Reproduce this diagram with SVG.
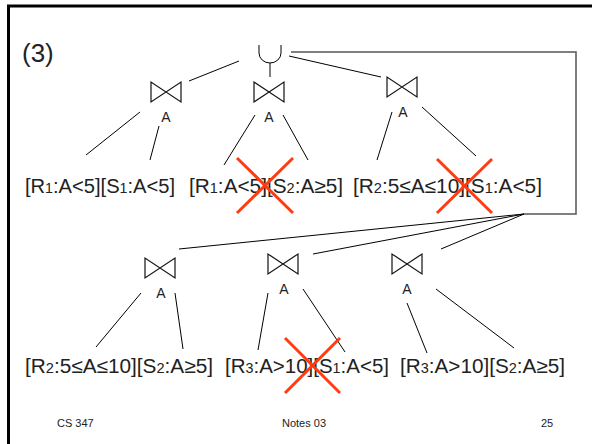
<svg xmlns="http://www.w3.org/2000/svg" width="592" height="444" viewBox="0 0 592 444">
  <style>
    .frame { stroke: #000; stroke-width: 3; fill: none; }
    .edge { stroke: #000; stroke-width: 1; fill: none; }
    .loop { stroke: #555; stroke-width: 1.5; fill: none; }
    .join { stroke: #111; stroke-width: 1.2; fill: none; stroke-linejoin: miter; }
    .cross { stroke: #ff3b0f; stroke-width: 3; }
    .rel { font-family: "Liberation Sans", Arial, sans-serif; font-size: 20px; fill: #222; }
    .rel .sub { font-size: 14px; }
    .attr { font-family: "Liberation Sans", Arial, sans-serif; font-size: 14px; fill: #222; text-anchor: middle; }
    .foot { font-family: "Liberation Sans", Arial, sans-serif; font-size: 11px; fill: #222; }
    .title { font-family: "Liberation Sans", Arial, sans-serif; font-size: 26px; fill: #222; }
  </style>
  <defs>
    <!-- bowtie (natural join) glyph, 30 x 20 -->
    <path id="bowtie" class="join" d="M0,0 V20 L30,0 V20 Z"/>
  </defs>

  <!-- slide frame -->
  <path class="frame" d="M8.5,444 V6 H592"/>

  <text class="title" x="22" y="62">(3)</text>

  <!-- connectors -->
  <g id="connectors">
    <!-- union stem and branches -->
    <line class="edge" x1="270" y1="63" x2="270" y2="77"/>
    <line class="edge" x1="189" y1="81" x2="239" y2="61"/>
    <line class="edge" x1="289" y1="56" x2="381" y2="77"/>
    <path class="loop" d="M291,52 H576 V214 H524"/>
    <line class="edge" x1="524" y1="214" x2="179" y2="249"/>
    <line class="edge" x1="524" y1="214" x2="313" y2="254"/>
    <line class="edge" x1="524" y1="214" x2="441" y2="249"/>
    <!-- first row joins to inputs -->
    <line class="edge" x1="140" y1="112" x2="86" y2="155"/>
    <line class="edge" x1="159" y1="126" x2="150" y2="160"/>
    <line class="edge" x1="255" y1="115" x2="224" y2="165"/>
    <line class="edge" x1="283" y1="115" x2="308" y2="160"/>
    <line class="edge" x1="392" y1="112" x2="377" y2="160"/>
    <line class="edge" x1="422" y1="107" x2="476" y2="156"/>
    <!-- second row joins to inputs -->
    <line class="edge" x1="141" y1="293" x2="96" y2="347"/>
    <line class="edge" x1="175" y1="293" x2="183" y2="349"/>
    <line class="edge" x1="268" y1="293" x2="258" y2="350"/>
    <line class="edge" x1="303" y1="289" x2="345" y2="352"/>
    <line class="edge" x1="407" y1="303" x2="427" y2="353"/>
    <line class="edge" x1="436" y1="289" x2="514" y2="348"/>
  </g>

  <!-- union -->
  <g id="union">
    <path class="edge" d="M259,45 V53 A11,10 0 0 0 281,53 V45" stroke-width="1.2"/>
  </g>

  <!-- first row joins -->
  <g id="join1"><use href="#bowtie" x="151" y="82"/><text class="attr" x="166" y="122">A</text></g>
  <g id="join2"><use href="#bowtie" x="254" y="82"/><text class="attr" x="269" y="122">A</text></g>
  <g id="join3"><use href="#bowtie" x="387" y="77"/><text class="attr" x="403" y="117">A</text></g>

  <!-- second row joins -->
  <g id="join4"><use href="#bowtie" x="145" y="258"/><text class="attr" x="161" y="298">A</text></g>
  <g id="join5"><use href="#bowtie" x="268" y="254"/><text class="attr" x="284" y="294">A</text></g>
  <g id="join6"><use href="#bowtie" x="392" y="254"/><text class="attr" x="407" y="294">A</text></g>

  <!-- first row fragment pairs -->
  <g id="pair1"><text class="rel" x="25" y="193" textLength="150" lengthAdjust="spacingAndGlyphs">[R<tspan class="sub">1</tspan>:A&lt;5][S<tspan class="sub">1</tspan>:A&lt;5]</text></g>
  <g id="pair2"><text class="rel" x="189" y="193" textLength="154" lengthAdjust="spacingAndGlyphs">[R<tspan class="sub">1</tspan>:A&lt;5][S<tspan class="sub">2</tspan>:A≥5]</text></g>
  <g id="pair3"><text class="rel" x="353" y="193" textLength="189" lengthAdjust="spacingAndGlyphs">[R<tspan class="sub">2</tspan>:5≤A≤10][S<tspan class="sub">1</tspan>:A&lt;5]</text></g>

  <!-- second row fragment pairs -->
  <g id="pair4"><text class="rel" x="25" y="373" textLength="188" lengthAdjust="spacingAndGlyphs">[R<tspan class="sub">2</tspan>:5≤A≤10][S<tspan class="sub">2</tspan>:A≥5]</text></g>
  <g id="pair5"><text class="rel" x="225" y="373" textLength="164" lengthAdjust="spacingAndGlyphs">[R<tspan class="sub">3</tspan>:A&gt;10][S<tspan class="sub">1</tspan>:A&lt;5]</text></g>
  <g id="pair6"><text class="rel" x="400" y="373" textLength="165" lengthAdjust="spacingAndGlyphs">[R<tspan class="sub">3</tspan>:A&gt;10][S<tspan class="sub">2</tspan>:A≥5]</text></g>

  <!-- pruned (empty) joins -->
  <g id="pruned">
    <line class="cross" x1="237" y1="158" x2="293" y2="213"/>
    <line class="cross" x1="293" y1="158" x2="237" y2="213"/>
    <line class="cross" x1="437" y1="159" x2="492" y2="213"/>
    <line class="cross" x1="492" y1="159" x2="437" y2="213"/>
    <line class="cross" x1="285" y1="338" x2="340" y2="393"/>
    <line class="cross" x1="340" y1="338" x2="285" y2="393"/>
  </g>

  <!-- footer -->
  <text class="foot" x="57" y="427">CS 347</text>
  <text class="foot" x="282" y="427">Notes 03</text>
  <text class="foot" x="541" y="427">25</text>
</svg>
